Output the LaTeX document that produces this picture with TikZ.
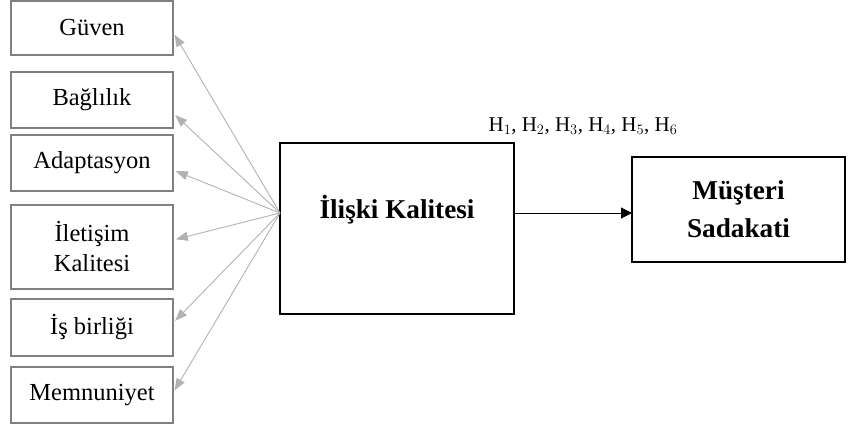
\documentclass[tikz,border=0pt]{standalone}
\usepackage{fontspec}
\setmainfont{Liberation Serif}
\usetikzlibrary{arrows.meta}
\begin{document}
\begin{tikzpicture}[x=1pt,y=-1pt,
  leftbox/.style={draw=black!50, line width=1.6pt, fill=white, inner sep=0pt, outer sep=0pt,
    minimum width=162pt, align=center, font=\fontsize{24.5}{30}\selectfont},
  mainbox/.style={draw=black, line width=2pt, fill=white, inner sep=0pt, outer sep=0pt,
    align=center, font=\fontsize{27.2}{38}\selectfont\bfseries},
  grayarrow/.style={draw=black!30, line width=0.9pt, -{Triangle[length=12pt,width=9pt]}, shorten >=3pt},
  blackarrow/.style={draw=black, line width=1pt, -{Triangle[length=11pt,width=11pt]}}
]
\useasboundingbox (0,0) rectangle (858,429);
\node[leftbox, minimum height=54pt] (guven) at (92,28) {Güven};
\node[leftbox, minimum height=56pt] (bag) at (92,100) {Bağlılık};
\node[leftbox, minimum height=56pt] (adap) at (92,163) {Adaptasyon};
\node[leftbox, minimum height=84pt] (ilet) at (92,247) {İletişim\\Kalitesi};
\node[leftbox, minimum height=57pt] (is) at (92,327.5) {İş birliği};
\node[leftbox, minimum height=56pt] (mem) at (92,395) {Memnuniyet};
\node[mainbox, minimum width=234pt, minimum height=171pt] (ik) at (397,228.5) {İlişki Kalitesi\\[6pt]\mbox{}};
\node[mainbox, minimum width=213pt, minimum height=105pt] (ms) at (738.5,209.5) {Müşteri\\Sadakati};
\coordinate (src) at (280,213);
\coordinate (dst) at (632,213);
\draw[blackarrow] (src -| ik.east) -- (dst);
\node[font=\fontsize{21}{24}\selectfont, anchor=base] (hl) at (583,131) {H$_1$, H$_2$, H$_3$, H$_4$, H$_5$, H$_6$};
\foreach \b/\yy in {guven/32, bag/113, adap/170, ilet/240, is/323, mem/393}{
  \draw[grayarrow] (src) -- (\b.east |- 0,\yy);
}
\end{tikzpicture}
\end{document}
